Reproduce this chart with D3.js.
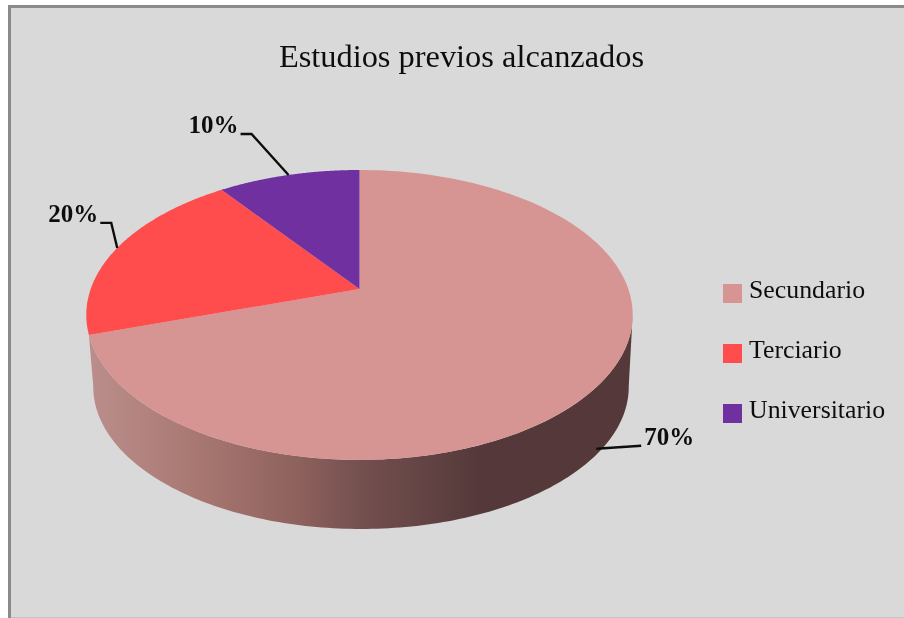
<!DOCTYPE html>
<html><head><meta charset="utf-8">
<script src="https://cdnjs.cloudflare.com/ajax/libs/d3/7.8.5/d3.min.js"></script>
<style>html,body{margin:0;padding:0;background:#fff}svg{display:block}text{font-family:"Liberation Serif",serif;fill:#111}</style>
</head><body><svg id="c" width="904" height="618"></svg>
<script>
const chartTitle = "Estudios previos alcanzados";
const categories = ["Secundario", "Terciario", "Universitario"];
const values = [70, 20, 10];
const colors = ["#d69592", "#ff4d4d", "#7030a0"];

const W = 904, H = 618;
const svg = d3.select("#c");
const defs = svg.append("defs");
defs.append("filter").attr("id","soft").append("feGaussianBlur").attr("stdDeviation",0.45);

svg.append("rect").attr("x",8).attr("y",5).attr("width",W-8).attr("height",H-5).attr("fill","#8a8a8a");
svg.append("rect").attr("x",11).attr("y",8).attr("width",W-11).attr("height",H-9).attr("fill","#d9d9d9");
svg.append("rect").attr("x",11).attr("y",H-1).attr("width",W-11).attr("height",1).attr("fill","#c4c4c4");

// Perspective projection of the pie disc
const cx = 359.5, cy = 289, R = 268.8, A = 140.3, K = 0.179, depth = 72.5, shrink = 0.98, shiftX = 1.5;
const proj = (a, level = 0) => {
  const u = Math.sin(a), v = Math.cos(a), w = 1 + K * v;
  const s = level ? shrink : 1;
  return [cx + level * shiftX + s * R * u / w, cy - s * A * v / w + level * depth];
};
const pieGen = d3.pie().value(d => d).sort(null).startAngle(0).endAngle(2 * Math.PI);
const arcs = pieGen(values);
const color = d3.scaleOrdinal().domain(categories).range(colors);
const deg = d => d * Math.PI / 180;
const line = d3.line();
const sweep = (a0, a1, level) => d3.range(0, 161).map(i => proj(a0 + (a1 - a0) * i / 160, level));

// side wall
const grad = defs.append("linearGradient").attr("id","wall").attr("gradientUnits","userSpaceOnUse")
  .attr("x1",90).attr("x2",630).attr("y1",0).attr("y2",0);
[[0,"#bb8e8b"],[0.2,"#a87772"],[0.38,"#8f625e"],[0.5,"#74504f"],[0.72,"#55393a"],[1,"#55393a"]]
  .forEach(([o,c]) => grad.append("stop").attr("offset",o).attr("stop-color",c));
const pinkEnd = arcs[0].endAngle;
svg.append("path").attr("fill","url(#wall)")
  .attr("d", line([...sweep(pinkEnd, deg(100), 0), ...sweep(deg(100), deg(260), 1)]) + "Z");

// top face
svg.append("g").selectAll("path").data(arcs).join("path")
  .attr("fill", (d,i) => color(categories[i]))
  .attr("d", d => line([[cx, cy], ...sweep(d.startAngle, d.endAngle, 0)]) + "Z");

const mid = d => (d.startAngle + d.endAngle) / 2;
// leader lines and labels
const leaders = svg.append("g").attr("filter","url(#soft)");
arcs.forEach((d,i) => {
  const m = mid(d), front = Math.cos(m) < -0.2;
  const r = proj(m, front ? 1 : 0);
  const p = front ? [r[0] - 3, r[1] - 3] : r;
  const pts = front
    ? [p, [p[0] + 45, p[1] - 3]]
    : (i === 1 ? [p, [p[0] - 6, p[1] - 25], [p[0] - 17, p[1] - 25]]
               : [p, [p[0] - 37, p[1] - 41], [p[0] - 48, p[1] - 41]]);
  leaders.append("path").attr("d", line(pts)).attr("fill","none").attr("stroke","#111").attr("stroke-width",2.4);
  const e = pts[pts.length - 1];
  leaders.append("text").text(values[i] + "%")
    .attr("x", front ? e[0] + 3 : e[0] - 2).attr("y", e[1] - 1)
    .attr("text-anchor", front ? "start" : "end")
    .attr("font-size", 25).attr("font-weight","bold");
});

// title
svg.append("text").text(chartTitle).attr("x",461.5).attr("y",67).attr("text-anchor","middle")
  .attr("font-size",32.4).attr("filter","url(#soft)");

// legend
const legendY = d3.scalePoint().domain(categories).range([284, 404]);
const lg = svg.append("g").selectAll("g").data(categories).join("g")
  .attr("transform", d => `translate(723,${legendY(d)})`);
lg.append("rect").attr("width",19).attr("height",19).attr("fill", d => color(d));
lg.append("text").text(d => d).attr("x",26).attr("y",13.5).attr("font-size",25.8).attr("filter","url(#soft)");
</script></body></html>
